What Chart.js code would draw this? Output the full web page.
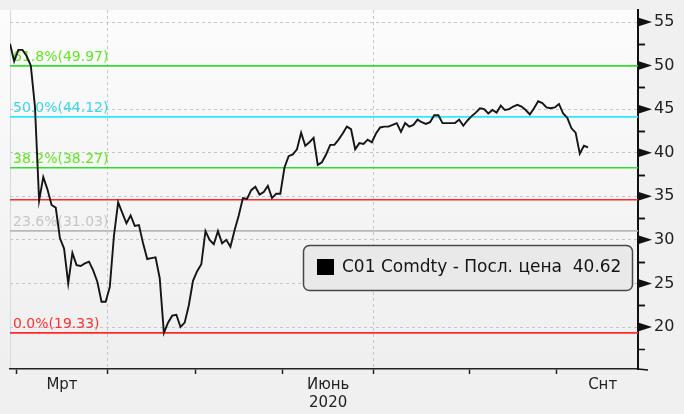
<!DOCTYPE html>
<html><head><meta charset="utf-8">
<script src="https://cdn.jsdelivr.net/npm/chart.js@4.4.1/dist/chart.umd.min.js"></script>
<style>html,body{margin:0;padding:0;background:#f0f0f0;overflow:hidden}#wrap{width:684px;height:414px;position:relative}</style>
</head><body><div id="wrap"><canvas id="c" width="684" height="414"></canvas></div>
<script>
// ---------- DATA ----------
const seriesName = 'C01 Comdty - Посл. цена';
const year = 2020;
const dates = [
 '02-27','02-28',
 '03-02','03-03','03-04','03-05','03-06','03-09','03-10','03-11','03-12','03-13','03-16','03-17','03-18','03-19','03-20','03-23','03-24','03-25','03-26','03-27','03-30','03-31',
 '04-01','04-02','04-03','04-06','04-07','04-08','04-09','04-13','04-14','04-15','04-16','04-17','04-20','04-21','04-22','04-23','04-24','04-27','04-28','04-29','04-30',
 '05-01','05-04','05-05','05-06','05-07','05-08','05-11','05-12','05-13','05-14','05-15','05-18','05-19','05-20','05-21','05-22','05-25','05-26','05-27','05-28','05-29',
 '06-01','06-02','06-03','06-04','06-05','06-08','06-09','06-10','06-11','06-12','06-15','06-16','06-17','06-18','06-19','06-22','06-23','06-24','06-25','06-26','06-29','06-30',
 '07-01','07-02','07-03','07-06','07-07','07-08','07-09','07-10','07-13','07-14','07-15','07-16','07-17','07-20','07-21','07-22','07-23','07-24','07-27','07-28','07-29','07-30','07-31',
 '08-03','08-04','08-05','08-06','08-07','08-10','08-11','08-12','08-13','08-14','08-17','08-18','08-19','08-20','08-21','08-24','08-25','08-26','08-27','08-28','08-31',
 '09-01','09-02','09-03','09-04','09-07','09-08','09-09','09-10'
];
const prices = [
 52.5,50.5,
 51.8,51.8,51.1,50.0,45.3,34.5,37.2,35.8,34.0,33.7,30.2,29.0,25.0,28.5,27.1,27.0,27.3,27.5,26.5,25.2,22.9,22.9,
 24.6,30.5,34.3,33.1,31.9,32.8,31.6,31.7,29.6,27.8,27.9,28.0,25.6,19.33,20.5,21.3,21.4,20.0,20.5,22.5,25.3,
 26.4,27.2,31.0,30.0,29.5,31.0,29.6,30.0,29.2,31.1,32.8,34.8,34.7,35.7,36.1,35.2,35.5,36.2,34.8,35.3,35.3,
 38.3,39.6,39.8,40.4,42.3,40.8,41.2,41.7,38.6,38.9,39.8,40.9,40.9,41.5,42.2,43.0,42.7,40.4,41.1,41.0,41.5,41.2,
 42.2,42.9,43.0,43.0,43.2,43.4,42.4,43.4,43.0,43.2,43.8,43.5,43.3,43.5,44.3,44.3,43.4,43.4,43.4,43.4,43.8,43.1,43.7,
 44.2,44.6,45.1,45.0,44.5,44.9,44.6,45.4,44.9,45.0,45.3,45.5,45.3,44.9,44.4,45.1,45.9,45.7,45.2,45.1,45.2,
 45.6,44.5,44.0,42.8,42.3,39.9,40.8,40.62
];
const fibPct  = ['61.8%','50.0%','38.2%','23.6%','0.0%'];
const fibVals = [49.97, 44.12, 38.27, 31.03, 19.33];
const extraLevels = [34.6];
const yTickVals = [20,25,30,35,40,45,50,55];
const labelMonths = [3,6,9];
const monthNames = ['Мрт','Июнь','Снт'];
const yearLabel = '2020';

// ---------- STYLE ----------
const fibLineColors = ['#2ddf2d','#2eeaf8','#2ddf2d','#b8b8b8','#ff2a2a'];
const fibTextColors = ['#5fe81c','#3ad8ea','#5fe81c','#c6c6c6','#ff3030'];
const extraColors = ['#ff2a2a'];
const FONT = 'DejaVu Sans';

// ---------- DERIVED ----------
const X_MIN = 0, X_MAX = 151;
const Y_MIN = 15.18, Y_MAX = 56.38;
const monthOf = d => parseInt(d.slice(0,2),10);
const boundaries = [];
for (let i=1;i<dates.length;i++){
  if (monthOf(dates[i])!==monthOf(dates[i-1])) boundaries.push({value:i-0.5, month:monthOf(dates[i]), start:i});
}
function weekdaysInMonth(y,m){let n=0;const dd=new Date(Date.UTC(y,m,0)).getUTCDate();for(let d=1;d<=dd;d++){const w=new Date(Date.UTC(y,m-1,d)).getUTCDay();if(w!==0&&w!==6)n++;}return n;}
const labelMap = new Map();
labelMonths.forEach((m,k)=>{
  const b = boundaries.find(o=>o.month===m);
  if(!b) return;
  const next = boundaries.find(o=>o.month===m+1);
  const len = next ? (next.start-b.start) : weekdaysInMonth(year,m);
  const pos = b.value + len/2;
  labelMap.set(pos, k===1 ? [monthNames[k], yearLabel] : monthNames[k]);
});
const boundarySet = new Map(boundaries.map(b=>[b.value,b.month]));
const isQuarter = m => (m===1||m===4||m===7||m===10);

const datasets = [{
  label: seriesName,
  data: prices.map((p,i)=>({x:i,y:p})),
  borderColor:'#151515', borderWidth:1.9, pointRadius:0, tension:0, order:0
}];
fibVals.forEach((v,k)=>datasets.push({data:[{x:X_MIN,y:v},{x:X_MAX,y:v}],borderColor:fibLineColors[k],borderWidth:1.6,pointRadius:0,order:1}));
extraLevels.forEach((v,k)=>datasets.push({data:[{x:X_MIN,y:v},{x:X_MAX,y:v}],borderColor:extraColors[k],borderWidth:1.6,pointRadius:0,order:1}));

const bgPlugin = {
  id:'bg',
  beforeDraw(chart){
    const {ctx, chartArea:a} = chart;
    ctx.save();
    const g = ctx.createLinearGradient(0,a.top,0,a.bottom);
    g.addColorStop(0,'#fcfcfc'); g.addColorStop(1,'#efefef');
    ctx.fillStyle = g;
    ctx.fillRect(0,a.top,a.right,a.bottom-a.top);
    ctx.strokeStyle='#d6d8e0'; ctx.lineWidth=1;
    ctx.beginPath(); ctx.moveTo(a.left+0.5,a.top); ctx.lineTo(a.left+0.5,a.bottom); ctx.stroke();
    ctx.restore();
  }
};
const fibLabelPlugin = {
  id:'fibLabels',
  beforeDatasetsDraw(chart){
    const {ctx, chartArea:a, scales:{y}} = chart;
    ctx.save();
    ctx.font = '14px "'+FONT+'"';
    ctx.textAlign='left'; ctx.textBaseline='alphabetic';
    fibVals.forEach((v,k)=>{
      ctx.fillStyle = fibTextColors[k];
      ctx.fillText(fibPct[k]+'('+v.toFixed(2)+')', a.left+3, y.getPixelForValue(v)-5);
    });
    ctx.restore();
  }
};
const axisDecoPlugin = {
  id:'axisDeco',
  afterDraw(chart){
    const {ctx, chartArea:a, scales:{y}} = chart;
    ctx.save();
    ctx.fillStyle='#111'; ctx.strokeStyle='#111'; ctx.lineWidth=1.5;
    yTickVals.forEach(v=>{
      const py = y.getPixelForValue(v);
      ctx.beginPath(); ctx.moveTo(a.right, py-4.5); ctx.lineTo(a.right+14, py); ctx.lineTo(a.right, py+4.5); ctx.closePath(); ctx.fill();
      [v-2.5, v+2.5].forEach(m=>{
        if (m>Y_MIN && m<Y_MAX && !yTickVals.includes(m)){
          const pm = Math.round(y.getPixelForValue(m))+0.5;
          ctx.beginPath(); ctx.moveTo(a.right, pm); ctx.lineTo(a.right+7, pm); ctx.stroke();
        }
      });
    });
    ctx.beginPath(); ctx.moveTo(a.right, a.bottom); ctx.lineTo(a.right+10, a.bottom+1); ctx.stroke();
    ctx.restore();
  }
};
const legendPlugin = {
  id:'boxLegend',
  afterDatasetsDraw(chart){
    const {ctx} = chart;
    const bx=303, by=245, bw=329, bh=45;
    ctx.save();
    ctx.beginPath(); ctx.roundRect(bx+0.5,by+0.5,bw,bh,6);
    ctx.fillStyle='#e9e9e9'; ctx.fill();
    ctx.strokeStyle='#484848'; ctx.lineWidth=1.5; ctx.stroke();
    ctx.fillStyle='#000'; ctx.fillRect(bx+14,by+14,17,16);
    ctx.font='17px "'+FONT+'"'; ctx.textBaseline='middle'; ctx.textAlign='left';
    ctx.fillStyle='#151515';
    ctx.fillText(seriesName+'  '+prices[prices.length-1].toFixed(2), bx+39, by+23);
    ctx.restore();
  }
};

new Chart(document.getElementById('c'), {
  type:'line',
  data:{datasets},
  plugins:[bgPlugin, fibLabelPlugin, axisDecoPlugin, legendPlugin],
  options:{
    responsive:false, animation:false, devicePixelRatio:1,
    layout:{padding:{left:10, top:10, right:0, bottom:0}},
    plugins:{legend:{display:false}, tooltip:{enabled:false}},
    scales:{
      x:{
        type:'linear', min:X_MIN, max:X_MAX,
        afterBuildTicks: s => {
          const vals = [...boundaries.map(b=>b.value), ...labelMap.keys()].filter(v=>v>=X_MIN&&v<=X_MAX).sort((p,q)=>p-q);
          s.ticks = vals.map(v=>({value:v}));
        },
        afterFit: s => { s.height = 45; s.paddingLeft = 0; s.paddingRight = 0; },
        ticks:{autoSkip:false, maxRotation:0, minRotation:0, padding:2, color:'#222',
          font:{family:FONT,size:15}, callback: v => labelMap.has(v) ? labelMap.get(v) : ''},
        grid:{
          color: c => (c.tick && boundarySet.has(c.tick.value) && isQuarter(boundarySet.get(c.tick.value))) ? '#c3c7d2' : 'rgba(0,0,0,0)',
          tickColor: c => (c.tick && boundarySet.has(c.tick.value)) ? '#222' : 'rgba(0,0,0,0)',
          tickLength:5, lineWidth:1, tickWidth:1.5
        },
        border:{display:true, color:'#222', width:1.5, dash:[3,3]}
      },
      y:{
        type:'linear', position:'right', min:Y_MIN, max:Y_MAX,
        afterBuildTicks: s => { s.ticks = yTickVals.map(v=>({value:v})); },
        afterFit: s => { s.width = 46; s.paddingTop = 0; s.paddingBottom = 0; },
        ticks:{padding:16, color:'#222', font:{family:FONT,size:16}},
        grid:{color:'#c3c7d2', drawTicks:false, lineWidth:1},
        border:{display:true, color:'#111', width:2, dash:[3,3]}
      }
    }
  }
});
</script>
</body></html>
